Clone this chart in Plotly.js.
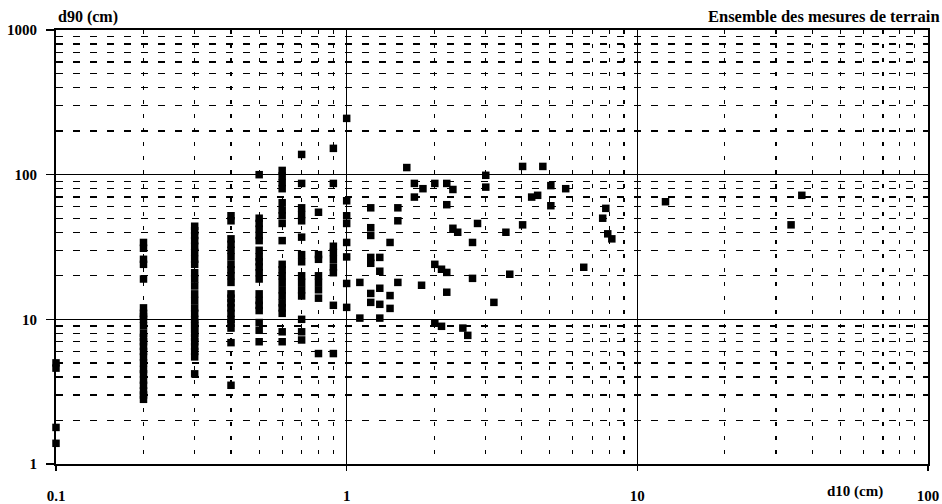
<!DOCTYPE html>
<html><head><meta charset="utf-8">
<script src="https://cdn.plot.ly/plotly-3.0.1.min.js"></script>
<style>html,body{margin:0;padding:0;background:#fff}#c{width:942px;height:504px}</style>
</head><body><div id="c"></div>
<script>
// d10 classes (cm) and the matching d90 readings (cm)
const d10_01 = [5.0, 4.6, 1.79, 1.39];
const d10_02 = [34, 31, 26, 24, 19, 12, 11, 10.5, 10, 9, 8, 7.5, 7, 6.5, 6, 5.5, 5, 4.5, 4.2, 3.8, 3.5, 3.2, 3, 2.8];
const d10_03 = [44, 41, 38, 35, 32, 29, 26, 24, 21, 19, 17, 15, 13.5, 12, 11, 10, 9.5, 9, 8.5, 8, 7.5, 7, 6.5, 6, 5.5, 4.2];
const d10_04 = [52, 48, 36, 33, 30, 27, 24, 22, 20, 18, 15, 14, 13, 12, 11, 10, 9.4, 8.7, 6.9, 3.5];
const d10_05 = [100, 50, 46, 42, 38, 35, 30, 27, 25, 23, 21, 19, 15, 13.5, 12.5, 11.5, 9.5, 8.4, 7];
const d10_06 = [107, 98, 88, 80, 64, 57, 52, 46, 35, 24, 22, 20, 18, 16, 14.5, 13, 12, 11, 8.2, 7];
const d10_07 = [138, 87, 59, 53, 48, 37, 28, 25, 20, 18, 16, 14.5, 10, 8.2, 7.2];
const d10_08 = [55, 28, 26, 20, 18, 16, 14, 5.8];
const d10_09 = [152, 87, 32, 29, 26, 23, 21, 12.5, 5.8];
const d10_10 = [245, 66, 52, 46, 34, 27, 17.7, 12.1];
// scattered points beyond 1 cm
const xFree = [1.11, 1.11, 1.21, 1.21, 1.21, 1.21, 1.21, 1.21, 1.21, 1.30, 1.30, 1.30, 1.30, 1.30,
  1.41, 1.41, 1.41, 1.50, 1.50, 1.50, 1.61, 1.71, 1.83, 1.71, 1.81, 2.01, 2.21, 2.32, 2.21, 2.32,
  2.41, 2.71, 2.82, 3.01, 3.01, 4.03, 4.73, 4.33, 4.54, 4.03, 3.53, 2.01, 2.12, 2.21, 2.21, 2.71,
  3.64, 3.21, 2.01, 2.12, 2.51, 2.61, 5.04, 5.67, 5.04, 7.79, 7.6, 7.91, 8.17, 6.54, 12.5, 33.8, 36.8];
const yFree = [18.0, 10.2, 59, 43, 38, 26.8, 24.4, 15.1, 13.1, 26.8, 21.5, 16.4, 12.7, 10.2,
  34, 14.6, 11.9, 59, 48, 18, 112, 87, 80, 70, 17.2, 87, 87, 79, 62, 42.6,
  40, 34, 46, 99, 82, 114, 114, 70, 72, 45, 40, 24, 22.2, 21.1, 15.4, 19.2,
  20.5, 13.1, 9.4, 8.95, 8.7, 7.75, 84, 80, 61, 58.5, 50, 39, 36, 22.9, 65, 45, 72];

const classes = [[0.1, d10_01], [0.2, d10_02], [0.3, d10_03], [0.4, d10_04], [0.5, d10_05],
  [0.6, d10_06], [0.7, d10_07], [0.8, d10_08], [0.9, d10_09], [1.0, d10_10]];
const xs = [], ys = [];
classes.forEach(([x, arr]) => arr.forEach(v => { xs.push(x); ys.push(v); }));
xFree.forEach((x, i) => { xs.push(x); ys.push(yFree[i]); });

const FAM = 'Liberation Serif';
const tickFont = {family: FAM, size: 15, color: '#000', weight: 'bold'};

const trace = {
  x: xs, y: ys, type: 'scatter', mode: 'markers',
  marker: {symbol: 'square', size: 7.5, color: '#000'},
  hoverinfo: 'x+y', showlegend: false, cliponaxis: false
};

const layout = {
  width: 942, height: 504,
  margin: {l: 56, r: 14, t: 30, b: 40},
  paper_bgcolor: '#fff', plot_bgcolor: '#fff',
  font: tickFont,
  xaxis: {
    type: 'log', range: [-1, 2], tickvals: [0.1, 1, 10, 100], ticktext: ['0.1', '1', '10', '100'],
    showgrid: true, gridcolor: '#000', gridwidth: 1.5,
    showline: true, linecolor: '#000', linewidth: 2, mirror: true,
    ticks: 'outside', ticklen: 5, tickcolor: '#000', tickwidth: 1.5,
    ticklabelstandoff: 12, zeroline: false, tickfont: tickFont,
    minor: {dtick: 'D1', showgrid: true, gridcolor: '#000', gridwidth: 1.3, griddash: '4px,10px', ticks: ''}
  },
  yaxis: {
    type: 'log', range: [0, 3], tickvals: [1, 10, 100, 1000], ticktext: ['1', '10', '100', '1000'],
    showgrid: true, gridcolor: '#000', gridwidth: 1.5,
    showline: true, linecolor: '#000', linewidth: 2, mirror: true,
    ticks: 'outside', ticklen: 8, tickcolor: '#000', tickwidth: 1.5,
    ticklabelstandoff: 6, zeroline: false, tickfont: tickFont,
    minor: {dtick: 'D1', showgrid: true, gridcolor: '#000', gridwidth: 1.3, griddash: '7px,10px', ticks: ''}
  },
  annotations: [
    {text: 'd90 (cm)', xref: 'paper', yref: 'paper', x: 0, y: 1, yshift: 2, xanchor: 'left', yanchor: 'bottom',
     showarrow: false, font: {family: FAM, size: 16, color: '#000', weight: 'bold'}},
    {text: 'Ensemble des mesures de terrain', xref: 'paper', yref: 'paper', x: 1, xshift: 14, y: 1, yshift: 2,
     xanchor: 'right', yanchor: 'bottom', showarrow: false,
     font: {family: FAM, size: 16.5, color: '#000', weight: 'bold'}},
    {text: 'd10 (cm)', xref: 'paper', yref: 'paper', x: 0.916, y: 0, yshift: -17, xanchor: 'center', yanchor: 'top',
     showarrow: false, font: {family: FAM, size: 15, color: '#000', weight: 'bold'}}
  ]
};

Plotly.newPlot('c', [trace], layout, {displayModeBar: false, staticPlot: true});
</script></body></html>
